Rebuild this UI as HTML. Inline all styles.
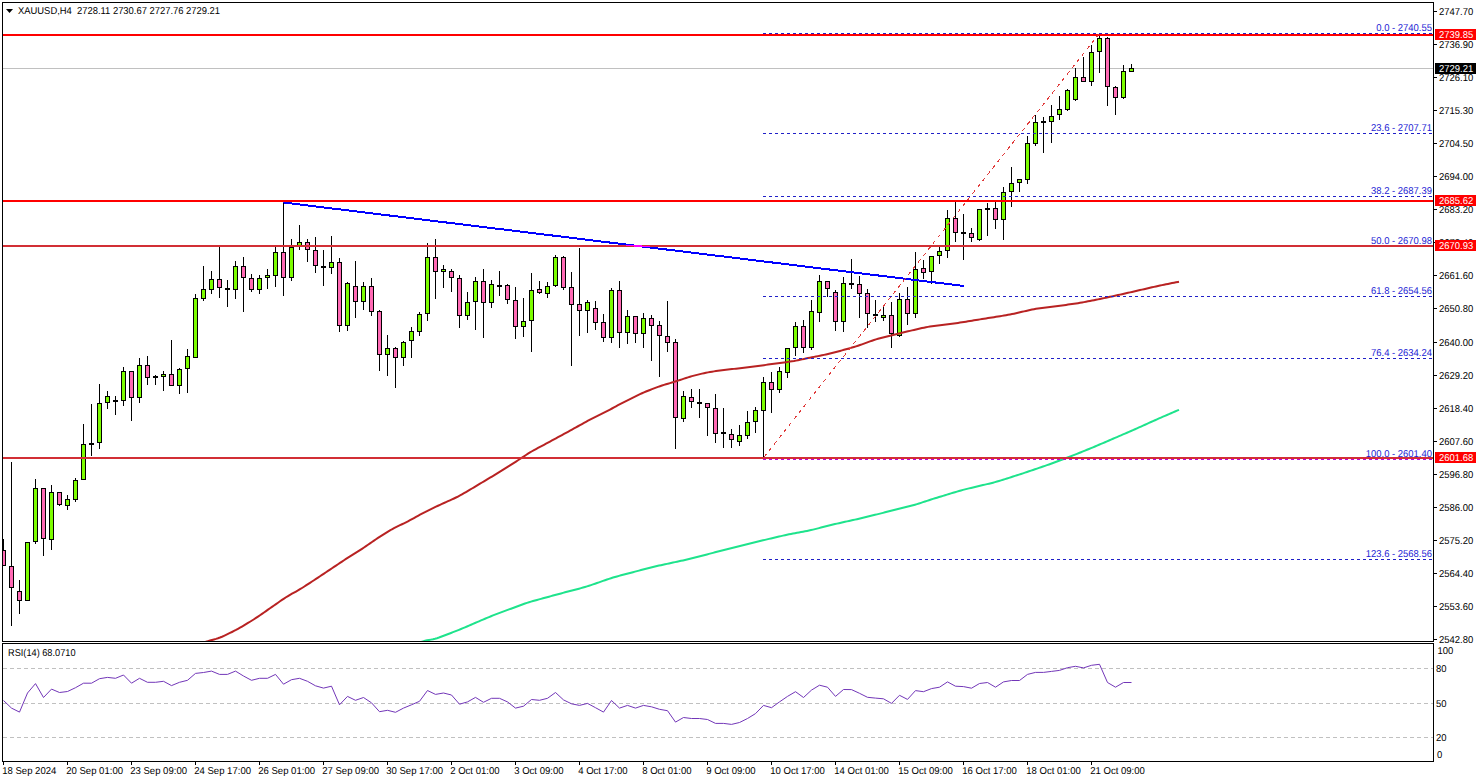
<!DOCTYPE html>
<html><head><meta charset="utf-8"><style>
html,body{margin:0;padding:0;background:#fff;width:1479px;height:782px;overflow:hidden;}
svg{display:block;}
text{font-family:"Liberation Sans",sans-serif;}
</style></head><body>
<svg width="1479" height="782" viewBox="0 0 1479 782" text-rendering="geometricPrecision">
<rect x="0" y="0" width="1479" height="782" fill="#fff"/>
<defs><clipPath id="mc"><rect x="3" y="3" width="1430" height="638"/></clipPath></defs>
<g shape-rendering="crispEdges" clip-path="url(#mc)">
<rect x="3" y="68" width="1430" height="1" fill="#c0c0c0"/>
<rect x="3" y="539" width="1" height="27" fill="#000"/>
<rect x="1" y="550" width="5" height="16" fill="#000"/>
<rect x="2" y="551" width="3" height="14" fill="#ff69b4"/>
<rect x="11" y="462" width="1" height="164" fill="#000"/>
<rect x="9" y="566" width="5" height="22" fill="#000"/>
<rect x="10" y="567" width="3" height="20" fill="#ff69b4"/>
<rect x="19" y="580" width="1" height="34" fill="#000"/>
<rect x="17" y="591" width="5" height="10" fill="#000"/>
<rect x="18" y="592" width="3" height="8" fill="#ff69b4"/>
<rect x="27" y="542" width="1" height="59" fill="#000"/>
<rect x="25" y="542" width="5" height="59" fill="#000"/>
<rect x="26" y="543" width="3" height="57" fill="#7cfc00"/>
<rect x="35" y="479" width="1" height="65" fill="#000"/>
<rect x="33" y="488" width="5" height="54" fill="#000"/>
<rect x="34" y="489" width="3" height="52" fill="#7cfc00"/>
<rect x="43" y="488" width="1" height="68" fill="#000"/>
<rect x="41" y="488" width="5" height="51" fill="#000"/>
<rect x="42" y="489" width="3" height="49" fill="#ff69b4"/>
<rect x="51" y="485" width="1" height="65" fill="#000"/>
<rect x="49" y="492" width="5" height="48" fill="#000"/>
<rect x="50" y="493" width="3" height="46" fill="#7cfc00"/>
<rect x="59" y="492" width="1" height="14" fill="#000"/>
<rect x="57" y="492" width="5" height="13" fill="#000"/>
<rect x="58" y="493" width="3" height="11" fill="#ff69b4"/>
<rect x="67" y="495" width="1" height="15" fill="#000"/>
<rect x="65" y="499" width="5" height="7" fill="#000"/>
<rect x="66" y="500" width="3" height="5" fill="#7cfc00"/>
<rect x="75" y="478" width="1" height="24" fill="#000"/>
<rect x="73" y="480" width="5" height="20" fill="#000"/>
<rect x="74" y="481" width="3" height="18" fill="#7cfc00"/>
<rect x="83" y="424" width="1" height="56" fill="#000"/>
<rect x="81" y="444" width="5" height="36" fill="#000"/>
<rect x="82" y="445" width="3" height="34" fill="#7cfc00"/>
<rect x="91" y="404" width="1" height="52" fill="#000"/>
<rect x="89" y="443" width="5" height="2" fill="#000"/>
<rect x="99" y="384" width="1" height="65" fill="#000"/>
<rect x="97" y="403" width="5" height="40" fill="#000"/>
<rect x="98" y="404" width="3" height="38" fill="#7cfc00"/>
<rect x="107" y="391" width="1" height="18" fill="#000"/>
<rect x="105" y="396" width="5" height="7" fill="#000"/>
<rect x="106" y="397" width="3" height="5" fill="#7cfc00"/>
<rect x="115" y="396" width="1" height="19" fill="#000"/>
<rect x="113" y="400" width="5" height="2" fill="#000"/>
<rect x="123" y="367" width="1" height="39" fill="#000"/>
<rect x="121" y="371" width="5" height="30" fill="#000"/>
<rect x="122" y="372" width="3" height="28" fill="#7cfc00"/>
<rect x="131" y="371" width="1" height="50" fill="#000"/>
<rect x="129" y="371" width="5" height="27" fill="#000"/>
<rect x="130" y="372" width="3" height="25" fill="#ff69b4"/>
<rect x="139" y="358" width="1" height="45" fill="#000"/>
<rect x="137" y="365" width="5" height="33" fill="#000"/>
<rect x="138" y="366" width="3" height="31" fill="#7cfc00"/>
<rect x="147" y="356" width="1" height="29" fill="#000"/>
<rect x="145" y="365" width="5" height="13" fill="#000"/>
<rect x="146" y="366" width="3" height="11" fill="#ff69b4"/>
<rect x="155" y="375" width="1" height="10" fill="#000"/>
<rect x="153" y="376" width="5" height="2" fill="#000"/>
<rect x="163" y="371" width="1" height="20" fill="#000"/>
<rect x="161" y="374" width="5" height="3" fill="#000"/>
<rect x="162" y="375" width="3" height="1" fill="#7cfc00"/>
<rect x="171" y="340" width="1" height="46" fill="#000"/>
<rect x="169" y="374" width="5" height="12" fill="#000"/>
<rect x="170" y="375" width="3" height="10" fill="#ff69b4"/>
<rect x="179" y="368" width="1" height="26" fill="#000"/>
<rect x="177" y="369" width="5" height="17" fill="#000"/>
<rect x="178" y="370" width="3" height="15" fill="#7cfc00"/>
<rect x="187" y="349" width="1" height="44" fill="#000"/>
<rect x="185" y="356" width="5" height="13" fill="#000"/>
<rect x="186" y="357" width="3" height="11" fill="#7cfc00"/>
<rect x="195" y="294" width="1" height="64" fill="#000"/>
<rect x="193" y="298" width="5" height="60" fill="#000"/>
<rect x="194" y="299" width="3" height="58" fill="#7cfc00"/>
<rect x="203" y="266" width="1" height="35" fill="#000"/>
<rect x="201" y="289" width="5" height="10" fill="#000"/>
<rect x="202" y="290" width="3" height="8" fill="#7cfc00"/>
<rect x="211" y="271" width="1" height="23" fill="#000"/>
<rect x="209" y="279" width="5" height="11" fill="#000"/>
<rect x="210" y="280" width="3" height="9" fill="#7cfc00"/>
<rect x="219" y="247" width="1" height="51" fill="#000"/>
<rect x="217" y="279" width="5" height="9" fill="#000"/>
<rect x="218" y="280" width="3" height="7" fill="#ff69b4"/>
<rect x="227" y="280" width="1" height="27" fill="#000"/>
<rect x="225" y="288" width="5" height="2" fill="#000"/>
<rect x="235" y="261" width="1" height="38" fill="#000"/>
<rect x="233" y="266" width="5" height="24" fill="#000"/>
<rect x="234" y="267" width="3" height="22" fill="#7cfc00"/>
<rect x="243" y="257" width="1" height="55" fill="#000"/>
<rect x="241" y="266" width="5" height="12" fill="#000"/>
<rect x="242" y="267" width="3" height="10" fill="#ff69b4"/>
<rect x="251" y="274" width="1" height="18" fill="#000"/>
<rect x="249" y="278" width="5" height="12" fill="#000"/>
<rect x="250" y="279" width="3" height="10" fill="#ff69b4"/>
<rect x="259" y="275" width="1" height="19" fill="#000"/>
<rect x="257" y="278" width="5" height="12" fill="#000"/>
<rect x="258" y="279" width="3" height="10" fill="#7cfc00"/>
<rect x="267" y="269" width="1" height="20" fill="#000"/>
<rect x="265" y="275" width="5" height="3" fill="#000"/>
<rect x="266" y="276" width="3" height="1" fill="#7cfc00"/>
<rect x="275" y="247" width="1" height="40" fill="#000"/>
<rect x="273" y="252" width="5" height="24" fill="#000"/>
<rect x="274" y="253" width="3" height="22" fill="#7cfc00"/>
<rect x="283" y="202" width="1" height="94" fill="#000"/>
<rect x="281" y="252" width="5" height="26" fill="#000"/>
<rect x="282" y="253" width="3" height="24" fill="#ff69b4"/>
<rect x="291" y="239" width="1" height="42" fill="#000"/>
<rect x="289" y="247" width="5" height="31" fill="#000"/>
<rect x="290" y="248" width="3" height="29" fill="#7cfc00"/>
<rect x="299" y="225" width="1" height="25" fill="#000"/>
<rect x="297" y="242" width="5" height="4" fill="#000"/>
<rect x="298" y="243" width="3" height="2" fill="#7cfc00"/>
<rect x="307" y="239" width="1" height="23" fill="#000"/>
<rect x="305" y="242" width="5" height="8" fill="#000"/>
<rect x="306" y="243" width="3" height="6" fill="#ff69b4"/>
<rect x="315" y="237" width="1" height="36" fill="#000"/>
<rect x="313" y="250" width="5" height="16" fill="#000"/>
<rect x="314" y="251" width="3" height="14" fill="#ff69b4"/>
<rect x="323" y="250" width="1" height="36" fill="#000"/>
<rect x="321" y="266" width="5" height="2" fill="#000"/>
<rect x="331" y="236" width="1" height="38" fill="#000"/>
<rect x="329" y="262" width="5" height="6" fill="#000"/>
<rect x="330" y="263" width="3" height="4" fill="#7cfc00"/>
<rect x="339" y="258" width="1" height="74" fill="#000"/>
<rect x="337" y="262" width="5" height="64" fill="#000"/>
<rect x="338" y="263" width="3" height="62" fill="#ff69b4"/>
<rect x="347" y="282" width="1" height="49" fill="#000"/>
<rect x="345" y="283" width="5" height="43" fill="#000"/>
<rect x="346" y="284" width="3" height="41" fill="#7cfc00"/>
<rect x="355" y="261" width="1" height="57" fill="#000"/>
<rect x="353" y="286" width="5" height="16" fill="#000"/>
<rect x="354" y="287" width="3" height="14" fill="#ff69b4"/>
<rect x="363" y="282" width="1" height="28" fill="#000"/>
<rect x="361" y="286" width="5" height="16" fill="#000"/>
<rect x="362" y="287" width="3" height="14" fill="#7cfc00"/>
<rect x="371" y="278" width="1" height="38" fill="#000"/>
<rect x="369" y="286" width="5" height="26" fill="#000"/>
<rect x="370" y="287" width="3" height="24" fill="#ff69b4"/>
<rect x="379" y="310" width="1" height="61" fill="#000"/>
<rect x="377" y="311" width="5" height="44" fill="#000"/>
<rect x="378" y="312" width="3" height="42" fill="#ff69b4"/>
<rect x="387" y="335" width="1" height="41" fill="#000"/>
<rect x="385" y="348" width="5" height="7" fill="#000"/>
<rect x="386" y="349" width="3" height="5" fill="#7cfc00"/>
<rect x="395" y="347" width="1" height="41" fill="#000"/>
<rect x="393" y="348" width="5" height="10" fill="#000"/>
<rect x="394" y="349" width="3" height="8" fill="#ff69b4"/>
<rect x="403" y="341" width="1" height="25" fill="#000"/>
<rect x="401" y="342" width="5" height="16" fill="#000"/>
<rect x="402" y="343" width="3" height="14" fill="#7cfc00"/>
<rect x="411" y="327" width="1" height="31" fill="#000"/>
<rect x="409" y="331" width="5" height="10" fill="#000"/>
<rect x="410" y="332" width="3" height="8" fill="#7cfc00"/>
<rect x="419" y="312" width="1" height="24" fill="#000"/>
<rect x="417" y="314" width="5" height="18" fill="#000"/>
<rect x="418" y="315" width="3" height="16" fill="#7cfc00"/>
<rect x="427" y="243" width="1" height="78" fill="#000"/>
<rect x="425" y="257" width="5" height="57" fill="#000"/>
<rect x="426" y="258" width="3" height="55" fill="#7cfc00"/>
<rect x="435" y="239" width="1" height="60" fill="#000"/>
<rect x="433" y="257" width="5" height="15" fill="#000"/>
<rect x="434" y="258" width="3" height="13" fill="#ff69b4"/>
<rect x="443" y="265" width="1" height="23" fill="#000"/>
<rect x="441" y="269" width="5" height="3" fill="#000"/>
<rect x="442" y="270" width="3" height="1" fill="#7cfc00"/>
<rect x="451" y="269" width="1" height="23" fill="#000"/>
<rect x="449" y="271" width="5" height="7" fill="#000"/>
<rect x="450" y="272" width="3" height="5" fill="#ff69b4"/>
<rect x="459" y="275" width="1" height="53" fill="#000"/>
<rect x="457" y="278" width="5" height="38" fill="#000"/>
<rect x="458" y="279" width="3" height="36" fill="#ff69b4"/>
<rect x="467" y="292" width="1" height="28" fill="#000"/>
<rect x="465" y="302" width="5" height="14" fill="#000"/>
<rect x="466" y="303" width="3" height="12" fill="#7cfc00"/>
<rect x="475" y="277" width="1" height="53" fill="#000"/>
<rect x="473" y="281" width="5" height="21" fill="#000"/>
<rect x="474" y="282" width="3" height="19" fill="#7cfc00"/>
<rect x="483" y="269" width="1" height="69" fill="#000"/>
<rect x="481" y="281" width="5" height="22" fill="#000"/>
<rect x="482" y="282" width="3" height="20" fill="#ff69b4"/>
<rect x="491" y="280" width="1" height="28" fill="#000"/>
<rect x="489" y="284" width="5" height="19" fill="#000"/>
<rect x="490" y="285" width="3" height="17" fill="#7cfc00"/>
<rect x="499" y="271" width="1" height="25" fill="#000"/>
<rect x="497" y="285" width="5" height="2" fill="#000"/>
<rect x="507" y="284" width="1" height="20" fill="#000"/>
<rect x="505" y="285" width="5" height="15" fill="#000"/>
<rect x="506" y="286" width="3" height="13" fill="#ff69b4"/>
<rect x="515" y="287" width="1" height="52" fill="#000"/>
<rect x="513" y="300" width="5" height="27" fill="#000"/>
<rect x="514" y="301" width="3" height="25" fill="#ff69b4"/>
<rect x="523" y="298" width="1" height="39" fill="#000"/>
<rect x="521" y="321" width="5" height="6" fill="#000"/>
<rect x="522" y="322" width="3" height="4" fill="#7cfc00"/>
<rect x="531" y="273" width="1" height="79" fill="#000"/>
<rect x="529" y="290" width="5" height="31" fill="#000"/>
<rect x="530" y="291" width="3" height="29" fill="#7cfc00"/>
<rect x="539" y="281" width="1" height="13" fill="#000"/>
<rect x="537" y="289" width="5" height="4" fill="#000"/>
<rect x="538" y="290" width="3" height="2" fill="#ff69b4"/>
<rect x="547" y="282" width="1" height="16" fill="#000"/>
<rect x="545" y="286" width="5" height="8" fill="#000"/>
<rect x="546" y="287" width="3" height="6" fill="#7cfc00"/>
<rect x="555" y="255" width="1" height="32" fill="#000"/>
<rect x="553" y="257" width="5" height="29" fill="#000"/>
<rect x="554" y="258" width="3" height="27" fill="#7cfc00"/>
<rect x="563" y="256" width="1" height="34" fill="#000"/>
<rect x="561" y="257" width="5" height="31" fill="#000"/>
<rect x="562" y="258" width="3" height="29" fill="#ff69b4"/>
<rect x="571" y="272" width="1" height="94" fill="#000"/>
<rect x="569" y="287" width="5" height="18" fill="#000"/>
<rect x="570" y="288" width="3" height="16" fill="#ff69b4"/>
<rect x="579" y="248" width="1" height="88" fill="#000"/>
<rect x="577" y="304" width="5" height="7" fill="#000"/>
<rect x="578" y="305" width="3" height="5" fill="#ff69b4"/>
<rect x="587" y="300" width="1" height="33" fill="#000"/>
<rect x="585" y="302" width="5" height="9" fill="#000"/>
<rect x="586" y="303" width="3" height="7" fill="#7cfc00"/>
<rect x="595" y="301" width="1" height="29" fill="#000"/>
<rect x="593" y="308" width="5" height="15" fill="#000"/>
<rect x="594" y="309" width="3" height="13" fill="#ff69b4"/>
<rect x="603" y="314" width="1" height="28" fill="#000"/>
<rect x="601" y="322" width="5" height="16" fill="#000"/>
<rect x="602" y="323" width="3" height="14" fill="#ff69b4"/>
<rect x="611" y="288" width="1" height="55" fill="#000"/>
<rect x="609" y="290" width="5" height="48" fill="#000"/>
<rect x="610" y="291" width="3" height="46" fill="#7cfc00"/>
<rect x="619" y="281" width="1" height="67" fill="#000"/>
<rect x="617" y="290" width="5" height="43" fill="#000"/>
<rect x="618" y="291" width="3" height="41" fill="#ff69b4"/>
<rect x="627" y="310" width="1" height="34" fill="#000"/>
<rect x="625" y="316" width="5" height="17" fill="#000"/>
<rect x="626" y="317" width="3" height="15" fill="#7cfc00"/>
<rect x="635" y="316" width="1" height="27" fill="#000"/>
<rect x="633" y="316" width="5" height="18" fill="#000"/>
<rect x="634" y="317" width="3" height="16" fill="#ff69b4"/>
<rect x="643" y="313" width="1" height="35" fill="#000"/>
<rect x="641" y="318" width="5" height="16" fill="#000"/>
<rect x="642" y="319" width="3" height="14" fill="#7cfc00"/>
<rect x="651" y="315" width="1" height="46" fill="#000"/>
<rect x="649" y="318" width="5" height="8" fill="#000"/>
<rect x="650" y="319" width="3" height="6" fill="#ff69b4"/>
<rect x="659" y="321" width="1" height="56" fill="#000"/>
<rect x="657" y="325" width="5" height="11" fill="#000"/>
<rect x="658" y="326" width="3" height="9" fill="#ff69b4"/>
<rect x="667" y="301" width="1" height="51" fill="#000"/>
<rect x="665" y="336" width="5" height="7" fill="#000"/>
<rect x="666" y="337" width="3" height="5" fill="#ff69b4"/>
<rect x="675" y="339" width="1" height="110" fill="#000"/>
<rect x="673" y="342" width="5" height="76" fill="#000"/>
<rect x="674" y="343" width="3" height="74" fill="#ff69b4"/>
<rect x="683" y="391" width="1" height="31" fill="#000"/>
<rect x="681" y="396" width="5" height="23" fill="#000"/>
<rect x="682" y="397" width="3" height="21" fill="#7cfc00"/>
<rect x="691" y="389" width="1" height="19" fill="#000"/>
<rect x="689" y="397" width="5" height="5" fill="#000"/>
<rect x="690" y="398" width="3" height="3" fill="#ff69b4"/>
<rect x="699" y="389" width="1" height="29" fill="#000"/>
<rect x="697" y="402" width="5" height="2" fill="#000"/>
<rect x="707" y="403" width="1" height="33" fill="#000"/>
<rect x="705" y="403" width="5" height="5" fill="#000"/>
<rect x="706" y="404" width="3" height="3" fill="#ff69b4"/>
<rect x="715" y="394" width="1" height="49" fill="#000"/>
<rect x="713" y="408" width="5" height="26" fill="#000"/>
<rect x="714" y="409" width="3" height="24" fill="#ff69b4"/>
<rect x="723" y="408" width="1" height="40" fill="#000"/>
<rect x="721" y="432" width="5" height="2" fill="#000"/>
<rect x="731" y="429" width="1" height="19" fill="#000"/>
<rect x="729" y="434" width="5" height="6" fill="#000"/>
<rect x="730" y="435" width="3" height="4" fill="#ff69b4"/>
<rect x="739" y="425" width="1" height="21" fill="#000"/>
<rect x="737" y="435" width="5" height="7" fill="#000"/>
<rect x="738" y="436" width="3" height="5" fill="#7cfc00"/>
<rect x="747" y="411" width="1" height="28" fill="#000"/>
<rect x="745" y="422" width="5" height="14" fill="#000"/>
<rect x="746" y="423" width="3" height="12" fill="#7cfc00"/>
<rect x="755" y="407" width="1" height="26" fill="#000"/>
<rect x="753" y="410" width="5" height="12" fill="#000"/>
<rect x="754" y="411" width="3" height="10" fill="#7cfc00"/>
<rect x="763" y="377" width="1" height="81" fill="#000"/>
<rect x="761" y="382" width="5" height="29" fill="#000"/>
<rect x="762" y="383" width="3" height="27" fill="#7cfc00"/>
<rect x="771" y="372" width="1" height="41" fill="#000"/>
<rect x="769" y="382" width="5" height="8" fill="#000"/>
<rect x="770" y="383" width="3" height="6" fill="#ff69b4"/>
<rect x="779" y="367" width="1" height="26" fill="#000"/>
<rect x="777" y="371" width="5" height="19" fill="#000"/>
<rect x="778" y="372" width="3" height="17" fill="#7cfc00"/>
<rect x="787" y="348" width="1" height="30" fill="#000"/>
<rect x="785" y="348" width="5" height="25" fill="#000"/>
<rect x="786" y="349" width="3" height="23" fill="#7cfc00"/>
<rect x="795" y="322" width="1" height="34" fill="#000"/>
<rect x="793" y="326" width="5" height="22" fill="#000"/>
<rect x="794" y="327" width="3" height="20" fill="#7cfc00"/>
<rect x="803" y="320" width="1" height="33" fill="#000"/>
<rect x="801" y="326" width="5" height="22" fill="#000"/>
<rect x="802" y="327" width="3" height="20" fill="#ff69b4"/>
<rect x="811" y="300" width="1" height="50" fill="#000"/>
<rect x="809" y="311" width="5" height="37" fill="#000"/>
<rect x="810" y="312" width="3" height="35" fill="#7cfc00"/>
<rect x="819" y="275" width="1" height="47" fill="#000"/>
<rect x="817" y="281" width="5" height="32" fill="#000"/>
<rect x="818" y="282" width="3" height="30" fill="#7cfc00"/>
<rect x="827" y="281" width="1" height="16" fill="#000"/>
<rect x="825" y="281" width="5" height="8" fill="#000"/>
<rect x="826" y="282" width="3" height="6" fill="#ff69b4"/>
<rect x="835" y="290" width="1" height="41" fill="#000"/>
<rect x="833" y="292" width="5" height="30" fill="#000"/>
<rect x="834" y="293" width="3" height="28" fill="#ff69b4"/>
<rect x="843" y="277" width="1" height="55" fill="#000"/>
<rect x="841" y="283" width="5" height="39" fill="#000"/>
<rect x="842" y="284" width="3" height="37" fill="#7cfc00"/>
<rect x="851" y="259" width="1" height="30" fill="#000"/>
<rect x="849" y="283" width="5" height="2" fill="#000"/>
<rect x="859" y="276" width="1" height="42" fill="#000"/>
<rect x="857" y="284" width="5" height="10" fill="#000"/>
<rect x="858" y="285" width="3" height="8" fill="#ff69b4"/>
<rect x="867" y="289" width="1" height="39" fill="#000"/>
<rect x="865" y="293" width="5" height="21" fill="#000"/>
<rect x="866" y="294" width="3" height="19" fill="#ff69b4"/>
<rect x="875" y="300" width="1" height="22" fill="#000"/>
<rect x="873" y="314" width="5" height="2" fill="#000"/>
<rect x="883" y="306" width="1" height="15" fill="#000"/>
<rect x="881" y="315" width="5" height="3" fill="#000"/>
<rect x="882" y="316" width="3" height="1" fill="#7cfc00"/>
<rect x="891" y="302" width="1" height="46" fill="#000"/>
<rect x="889" y="315" width="5" height="19" fill="#000"/>
<rect x="890" y="316" width="3" height="17" fill="#ff69b4"/>
<rect x="899" y="293" width="1" height="44" fill="#000"/>
<rect x="897" y="299" width="5" height="37" fill="#000"/>
<rect x="898" y="300" width="3" height="35" fill="#7cfc00"/>
<rect x="907" y="287" width="1" height="38" fill="#000"/>
<rect x="905" y="299" width="5" height="15" fill="#000"/>
<rect x="906" y="300" width="3" height="13" fill="#ff69b4"/>
<rect x="915" y="252" width="1" height="66" fill="#000"/>
<rect x="913" y="269" width="5" height="45" fill="#000"/>
<rect x="914" y="270" width="3" height="43" fill="#7cfc00"/>
<rect x="923" y="260" width="1" height="19" fill="#000"/>
<rect x="921" y="268" width="5" height="5" fill="#000"/>
<rect x="922" y="269" width="3" height="3" fill="#ff69b4"/>
<rect x="931" y="256" width="1" height="28" fill="#000"/>
<rect x="929" y="256" width="5" height="16" fill="#000"/>
<rect x="930" y="257" width="3" height="14" fill="#7cfc00"/>
<rect x="939" y="247" width="1" height="17" fill="#000"/>
<rect x="937" y="251" width="5" height="5" fill="#000"/>
<rect x="938" y="252" width="3" height="3" fill="#7cfc00"/>
<rect x="947" y="210" width="1" height="48" fill="#000"/>
<rect x="945" y="218" width="5" height="33" fill="#000"/>
<rect x="946" y="219" width="3" height="31" fill="#7cfc00"/>
<rect x="955" y="202" width="1" height="40" fill="#000"/>
<rect x="953" y="218" width="5" height="15" fill="#000"/>
<rect x="954" y="219" width="3" height="13" fill="#ff69b4"/>
<rect x="963" y="214" width="1" height="46" fill="#000"/>
<rect x="961" y="232" width="5" height="2" fill="#000"/>
<rect x="971" y="228" width="1" height="14" fill="#000"/>
<rect x="969" y="233" width="5" height="5" fill="#000"/>
<rect x="970" y="234" width="3" height="3" fill="#ff69b4"/>
<rect x="979" y="209" width="1" height="32" fill="#000"/>
<rect x="977" y="209" width="5" height="31" fill="#000"/>
<rect x="978" y="210" width="3" height="29" fill="#7cfc00"/>
<rect x="987" y="203" width="1" height="33" fill="#000"/>
<rect x="985" y="208" width="5" height="2" fill="#000"/>
<rect x="995" y="202" width="1" height="27" fill="#000"/>
<rect x="993" y="208" width="5" height="12" fill="#000"/>
<rect x="994" y="209" width="3" height="10" fill="#ff69b4"/>
<rect x="1003" y="187" width="1" height="53" fill="#000"/>
<rect x="1001" y="192" width="5" height="28" fill="#000"/>
<rect x="1002" y="193" width="3" height="26" fill="#7cfc00"/>
<rect x="1011" y="167" width="1" height="40" fill="#000"/>
<rect x="1009" y="183" width="5" height="9" fill="#000"/>
<rect x="1010" y="184" width="3" height="7" fill="#7cfc00"/>
<rect x="1019" y="179" width="1" height="13" fill="#000"/>
<rect x="1017" y="179" width="5" height="4" fill="#000"/>
<rect x="1018" y="180" width="3" height="2" fill="#7cfc00"/>
<rect x="1027" y="136" width="1" height="48" fill="#000"/>
<rect x="1025" y="143" width="5" height="37" fill="#000"/>
<rect x="1026" y="144" width="3" height="35" fill="#7cfc00"/>
<rect x="1035" y="115" width="1" height="31" fill="#000"/>
<rect x="1033" y="122" width="5" height="22" fill="#000"/>
<rect x="1034" y="123" width="3" height="20" fill="#7cfc00"/>
<rect x="1043" y="117" width="1" height="36" fill="#000"/>
<rect x="1041" y="121" width="5" height="2" fill="#000"/>
<rect x="1051" y="105" width="1" height="38" fill="#000"/>
<rect x="1049" y="116" width="5" height="6" fill="#000"/>
<rect x="1050" y="117" width="3" height="4" fill="#7cfc00"/>
<rect x="1059" y="96" width="1" height="24" fill="#000"/>
<rect x="1057" y="109" width="5" height="6" fill="#000"/>
<rect x="1058" y="110" width="3" height="4" fill="#7cfc00"/>
<rect x="1067" y="89" width="1" height="22" fill="#000"/>
<rect x="1065" y="90" width="5" height="20" fill="#000"/>
<rect x="1066" y="91" width="3" height="18" fill="#7cfc00"/>
<rect x="1075" y="68" width="1" height="33" fill="#000"/>
<rect x="1073" y="77" width="5" height="23" fill="#000"/>
<rect x="1074" y="78" width="3" height="21" fill="#7cfc00"/>
<rect x="1083" y="57" width="1" height="25" fill="#000"/>
<rect x="1081" y="77" width="5" height="5" fill="#000"/>
<rect x="1082" y="78" width="3" height="3" fill="#ff69b4"/>
<rect x="1091" y="45" width="1" height="41" fill="#000"/>
<rect x="1089" y="52" width="5" height="30" fill="#000"/>
<rect x="1090" y="53" width="3" height="28" fill="#7cfc00"/>
<rect x="1099" y="33" width="1" height="40" fill="#000"/>
<rect x="1097" y="38" width="5" height="14" fill="#000"/>
<rect x="1098" y="39" width="3" height="12" fill="#7cfc00"/>
<rect x="1107" y="37" width="1" height="69" fill="#000"/>
<rect x="1105" y="38" width="5" height="49" fill="#000"/>
<rect x="1106" y="39" width="3" height="47" fill="#ff69b4"/>
<rect x="1115" y="86" width="1" height="29" fill="#000"/>
<rect x="1113" y="87" width="5" height="11" fill="#000"/>
<rect x="1114" y="88" width="3" height="9" fill="#ff69b4"/>
<rect x="1123" y="65" width="1" height="34" fill="#000"/>
<rect x="1121" y="71" width="5" height="27" fill="#000"/>
<rect x="1122" y="72" width="3" height="25" fill="#7cfc00"/>
<rect x="1131" y="64" width="1" height="8" fill="#000"/>
<rect x="1129" y="68" width="5" height="4" fill="#000"/>
<rect x="1130" y="69" width="3" height="2" fill="#7cfc00"/>
</g>
<g clip-path="url(#mc)">
<path d="M204.0,642.50 L206.0,641.78 L208.0,641.10 L210.0,640.49 L212.0,639.94 L214.0,639.42 L216.0,638.87 L218.0,638.25 L220.0,637.52 L222.0,636.71 L224.0,635.81 L226.0,634.88 L228.0,633.93 L230.0,632.96 L232.0,631.98 L234.0,630.98 L236.0,629.95 L238.0,628.86 L240.0,627.74 L242.0,626.57 L244.0,625.38 L246.0,624.19 L248.0,622.98 L250.0,621.76 L252.0,620.52 L254.0,619.24 L256.0,617.94 L258.0,616.59 L260.0,615.23 L262.0,613.84 L264.0,612.46 L266.0,611.07 L268.0,609.67 L270.0,608.28 L272.0,606.89 L274.0,605.49 L276.0,604.09 L278.0,602.70 L280.0,601.30 L282.0,599.93 L284.0,598.58 L286.0,597.28 L288.0,596.04 L290.0,594.87 L292.0,593.74 L294.0,592.63 L296.0,591.52 L298.0,590.39 L300.0,589.21 L302.0,588.00 L304.0,586.74 L306.0,585.45 L308.0,584.15 L310.0,582.84 L312.0,581.53 L314.0,580.21 L316.0,578.90 L318.0,577.58 L320.0,576.27 L322.0,574.94 L324.0,573.61 L326.0,572.27 L328.0,570.93 L330.0,569.58 L332.0,568.24 L334.0,566.89 L336.0,565.55 L338.0,564.21 L340.0,562.87 L342.0,561.55 L344.0,560.25 L346.0,558.96 L348.0,557.69 L350.0,556.44 L352.0,555.19 L354.0,553.95 L356.0,552.69 L358.0,551.43 L360.0,550.15 L362.0,548.84 L364.0,547.50 L366.0,546.13 L368.0,544.75 L370.0,543.36 L372.0,541.97 L374.0,540.60 L376.0,539.25 L378.0,537.93 L380.0,536.64 L382.0,535.37 L384.0,534.12 L386.0,532.87 L388.0,531.63 L390.0,530.42 L392.0,529.25 L394.0,528.15 L396.0,527.11 L398.0,526.14 L400.0,525.21 L402.0,524.28 L404.0,523.34 L406.0,522.35 L408.0,521.31 L410.0,520.24 L412.0,519.13 L414.0,518.01 L416.0,516.89 L418.0,515.79 L420.0,514.71 L422.0,513.66 L424.0,512.63 L426.0,511.62 L428.0,510.63 L430.0,509.63 L432.0,508.64 L434.0,507.66 L436.0,506.69 L438.0,505.75 L440.0,504.81 L442.0,503.90 L444.0,502.99 L446.0,502.09 L448.0,501.19 L450.0,500.29 L452.0,499.38 L454.0,498.47 L456.0,497.52 L458.0,496.53 L460.0,495.49 L462.0,494.39 L464.0,493.24 L466.0,492.07 L468.0,490.88 L470.0,489.68 L472.0,488.49 L474.0,487.29 L476.0,486.10 L478.0,484.90 L480.0,483.71 L482.0,482.51 L484.0,481.32 L486.0,480.12 L488.0,478.93 L490.0,477.73 L492.0,476.54 L494.0,475.34 L496.0,474.14 L498.0,472.93 L500.0,471.71 L502.0,470.47 L504.0,469.21 L506.0,467.95 L508.0,466.68 L510.0,465.41 L512.0,464.13 L514.0,462.85 L516.0,461.57 L518.0,460.28 L520.0,458.98 L522.0,457.66 L524.0,456.34 L526.0,455.01 L528.0,453.71 L530.0,452.45 L532.0,451.26 L534.0,450.12 L536.0,449.02 L538.0,447.95 L540.0,446.88 L542.0,445.83 L544.0,444.77 L546.0,443.71 L548.0,442.64 L550.0,441.57 L552.0,440.49 L554.0,439.41 L556.0,438.32 L558.0,437.23 L560.0,436.14 L562.0,435.04 L564.0,433.95 L566.0,432.86 L568.0,431.76 L570.0,430.66 L572.0,429.56 L574.0,428.46 L576.0,427.35 L578.0,426.25 L580.0,425.14 L582.0,424.03 L584.0,422.93 L586.0,421.83 L588.0,420.74 L590.0,419.66 L592.0,418.61 L594.0,417.59 L596.0,416.57 L598.0,415.57 L600.0,414.57 L602.0,413.58 L604.0,412.58 L606.0,411.58 L608.0,410.57 L610.0,409.54 L612.0,408.49 L614.0,407.41 L616.0,406.32 L618.0,405.23 L620.0,404.15 L622.0,403.09 L624.0,402.05 L626.0,401.03 L628.0,400.02 L630.0,399.02 L632.0,398.03 L634.0,397.03 L636.0,396.05 L638.0,395.07 L640.0,394.13 L642.0,393.22 L644.0,392.36 L646.0,391.53 L648.0,390.74 L650.0,389.96 L652.0,389.18 L654.0,388.42 L656.0,387.66 L658.0,386.92 L660.0,386.22 L662.0,385.55 L664.0,384.91 L666.0,384.30 L668.0,383.71 L670.0,383.11 L672.0,382.52 L674.0,381.91 L676.0,381.30 L678.0,380.66 L680.0,380.01 L682.0,379.34 L684.0,378.65 L686.0,377.98 L688.0,377.33 L690.0,376.72 L692.0,376.15 L694.0,375.62 L696.0,375.11 L698.0,374.60 L700.0,374.11 L702.0,373.63 L704.0,373.17 L706.0,372.74 L708.0,372.36 L710.0,372.01 L712.0,371.69 L714.0,371.38 L716.0,371.08 L718.0,370.79 L720.0,370.51 L722.0,370.23 L724.0,369.97 L726.0,369.73 L728.0,369.50 L730.0,369.29 L732.0,369.08 L734.0,368.87 L736.0,368.66 L738.0,368.45 L740.0,368.23 L742.0,368.01 L744.0,367.77 L746.0,367.53 L748.0,367.29 L750.0,367.04 L752.0,366.79 L754.0,366.53 L756.0,366.28 L758.0,366.01 L760.0,365.74 L762.0,365.46 L764.0,365.17 L766.0,364.88 L768.0,364.59 L770.0,364.29 L772.0,364.00 L774.0,363.71 L776.0,363.43 L778.0,363.16 L780.0,362.90 L782.0,362.64 L784.0,362.39 L786.0,362.14 L788.0,361.88 L790.0,361.61 L792.0,361.32 L794.0,361.00 L796.0,360.63 L798.0,360.24 L800.0,359.82 L802.0,359.38 L804.0,358.94 L806.0,358.50 L808.0,358.08 L810.0,357.66 L812.0,357.27 L814.0,356.88 L816.0,356.50 L818.0,356.12 L820.0,355.73 L822.0,355.32 L824.0,354.88 L826.0,354.42 L828.0,353.94 L830.0,353.45 L832.0,352.95 L834.0,352.45 L836.0,351.94 L838.0,351.43 L840.0,350.91 L842.0,350.37 L844.0,349.83 L846.0,349.27 L848.0,348.71 L850.0,348.15 L852.0,347.58 L854.0,347.00 L856.0,346.39 L858.0,345.75 L860.0,345.07 L862.0,344.36 L864.0,343.63 L866.0,342.89 L868.0,342.14 L870.0,341.41 L872.0,340.70 L874.0,340.02 L876.0,339.39 L878.0,338.82 L880.0,338.28 L882.0,337.77 L884.0,337.28 L886.0,336.79 L888.0,336.30 L890.0,335.81 L892.0,335.31 L894.0,334.82 L896.0,334.32 L898.0,333.82 L900.0,333.32 L902.0,332.83 L904.0,332.33 L906.0,331.83 L908.0,331.34 L910.0,330.85 L912.0,330.38 L914.0,329.91 L916.0,329.45 L918.0,328.99 L920.0,328.53 L922.0,328.08 L924.0,327.65 L926.0,327.24 L928.0,326.88 L930.0,326.55 L932.0,326.27 L934.0,326.02 L936.0,325.77 L938.0,325.54 L940.0,325.30 L942.0,325.06 L944.0,324.81 L946.0,324.55 L948.0,324.28 L950.0,324.02 L952.0,323.74 L954.0,323.47 L956.0,323.19 L958.0,322.90 L960.0,322.61 L962.0,322.30 L964.0,321.98 L966.0,321.65 L968.0,321.32 L970.0,320.99 L972.0,320.66 L974.0,320.34 L976.0,320.01 L978.0,319.69 L980.0,319.37 L982.0,319.05 L984.0,318.73 L986.0,318.41 L988.0,318.09 L990.0,317.78 L992.0,317.46 L994.0,317.14 L996.0,316.82 L998.0,316.50 L1000.0,316.19 L1002.0,315.87 L1004.0,315.54 L1006.0,315.21 L1008.0,314.86 L1010.0,314.49 L1012.0,314.08 L1014.0,313.66 L1016.0,313.21 L1018.0,312.76 L1020.0,312.30 L1022.0,311.84 L1024.0,311.38 L1026.0,310.92 L1028.0,310.46 L1030.0,310.02 L1032.0,309.59 L1034.0,309.19 L1036.0,308.83 L1038.0,308.51 L1040.0,308.23 L1042.0,307.97 L1044.0,307.71 L1046.0,307.47 L1048.0,307.22 L1050.0,306.97 L1052.0,306.71 L1054.0,306.46 L1056.0,306.20 L1058.0,305.94 L1060.0,305.68 L1062.0,305.42 L1064.0,305.16 L1066.0,304.89 L1068.0,304.61 L1070.0,304.33 L1072.0,304.04 L1074.0,303.75 L1076.0,303.45 L1078.0,303.14 L1080.0,302.81 L1082.0,302.47 L1084.0,302.11 L1086.0,301.73 L1088.0,301.35 L1090.0,300.96 L1092.0,300.57 L1094.0,300.17 L1096.0,299.78 L1098.0,299.38 L1100.0,298.97 L1102.0,298.56 L1104.0,298.14 L1106.0,297.71 L1108.0,297.29 L1110.0,296.85 L1112.0,296.41 L1114.0,295.97 L1116.0,295.53 L1118.0,295.08 L1120.0,294.62 L1122.0,294.17 L1124.0,293.72 L1126.0,293.27 L1128.0,292.82 L1130.0,292.37 L1132.0,291.91 L1134.0,291.46 L1136.0,291.01 L1138.0,290.55 L1140.0,290.09 L1142.0,289.63 L1144.0,289.17 L1146.0,288.71 L1148.0,288.25 L1150.0,287.78 L1152.0,287.32 L1154.0,286.86 L1156.0,286.41 L1158.0,285.97 L1160.0,285.54 L1162.0,285.12 L1164.0,284.71 L1166.0,284.30 L1168.0,283.90 L1170.0,283.50 L1172.0,283.10 L1174.0,282.70 L1176.0,282.30 L1178.0,281.90 L1179.0,281.70" fill="none" stroke="#b82222" stroke-width="2"/>
<path d="M421.0,642.00 L423.0,641.35 L425.0,640.79 L427.0,640.33 L429.0,639.96 L431.0,639.62 L433.0,639.24 L435.0,638.77 L437.0,638.19 L439.0,637.52 L441.0,636.79 L443.0,636.03 L445.0,635.27 L447.0,634.49 L449.0,633.72 L451.0,632.95 L453.0,632.17 L455.0,631.40 L457.0,630.61 L459.0,629.82 L461.0,629.01 L463.0,628.18 L465.0,627.33 L467.0,626.48 L469.0,625.62 L471.0,624.76 L473.0,623.90 L475.0,623.04 L477.0,622.18 L479.0,621.31 L481.0,620.45 L483.0,619.59 L485.0,618.73 L487.0,617.88 L489.0,617.05 L491.0,616.23 L493.0,615.44 L495.0,614.67 L497.0,613.91 L499.0,613.16 L501.0,612.41 L503.0,611.67 L505.0,610.92 L507.0,610.18 L509.0,609.43 L511.0,608.69 L513.0,607.94 L515.0,607.19 L517.0,606.45 L519.0,605.71 L521.0,604.97 L523.0,604.24 L525.0,603.53 L527.0,602.85 L529.0,602.22 L531.0,601.62 L533.0,601.04 L535.0,600.49 L537.0,599.94 L539.0,599.39 L541.0,598.85 L543.0,598.30 L545.0,597.76 L547.0,597.21 L549.0,596.67 L551.0,596.12 L553.0,595.58 L555.0,595.04 L557.0,594.49 L559.0,593.95 L561.0,593.41 L563.0,592.88 L565.0,592.34 L567.0,591.82 L569.0,591.29 L571.0,590.77 L573.0,590.24 L575.0,589.72 L577.0,589.19 L579.0,588.66 L581.0,588.13 L583.0,587.58 L585.0,587.01 L587.0,586.41 L589.0,585.77 L591.0,585.10 L593.0,584.42 L595.0,583.72 L597.0,583.03 L599.0,582.33 L601.0,581.63 L603.0,580.93 L605.0,580.23 L607.0,579.54 L609.0,578.86 L611.0,578.20 L613.0,577.58 L615.0,576.98 L617.0,576.42 L619.0,575.87 L621.0,575.34 L623.0,574.81 L625.0,574.28 L627.0,573.76 L629.0,573.23 L631.0,572.70 L633.0,572.18 L635.0,571.65 L637.0,571.12 L639.0,570.60 L641.0,570.07 L643.0,569.54 L645.0,569.01 L647.0,568.49 L649.0,567.97 L651.0,567.46 L653.0,566.97 L655.0,566.50 L657.0,566.04 L659.0,565.60 L661.0,565.16 L663.0,564.73 L665.0,564.30 L667.0,563.86 L669.0,563.43 L671.0,563.00 L673.0,562.57 L675.0,562.14 L677.0,561.71 L679.0,561.27 L681.0,560.84 L683.0,560.41 L685.0,559.97 L687.0,559.52 L689.0,559.06 L691.0,558.58 L693.0,558.09 L695.0,557.57 L697.0,557.05 L699.0,556.53 L701.0,556.00 L703.0,555.48 L705.0,554.95 L707.0,554.42 L709.0,553.90 L711.0,553.38 L713.0,552.86 L715.0,552.34 L717.0,551.83 L719.0,551.33 L721.0,550.83 L723.0,550.33 L725.0,549.83 L727.0,549.32 L729.0,548.82 L731.0,548.32 L733.0,547.82 L735.0,547.32 L737.0,546.82 L739.0,546.32 L741.0,545.82 L743.0,545.32 L745.0,544.82 L747.0,544.32 L749.0,543.81 L751.0,543.31 L753.0,542.81 L755.0,542.31 L757.0,541.81 L759.0,541.31 L761.0,540.82 L763.0,540.33 L765.0,539.85 L767.0,539.37 L769.0,538.90 L771.0,538.43 L773.0,537.96 L775.0,537.50 L777.0,537.03 L779.0,536.56 L781.0,536.10 L783.0,535.64 L785.0,535.19 L787.0,534.76 L789.0,534.35 L791.0,533.95 L793.0,533.57 L795.0,533.19 L797.0,532.82 L799.0,532.44 L801.0,532.07 L803.0,531.70 L805.0,531.32 L807.0,530.92 L809.0,530.51 L811.0,530.07 L813.0,529.60 L815.0,529.11 L817.0,528.61 L819.0,528.10 L821.0,527.59 L823.0,527.08 L825.0,526.57 L827.0,526.06 L829.0,525.56 L831.0,525.06 L833.0,524.57 L835.0,524.09 L837.0,523.62 L839.0,523.17 L841.0,522.72 L843.0,522.28 L845.0,521.83 L847.0,521.39 L849.0,520.95 L851.0,520.50 L853.0,520.06 L855.0,519.61 L857.0,519.16 L859.0,518.70 L861.0,518.23 L863.0,517.75 L865.0,517.27 L867.0,516.78 L869.0,516.30 L871.0,515.81 L873.0,515.33 L875.0,514.84 L877.0,514.35 L879.0,513.86 L881.0,513.36 L883.0,512.86 L885.0,512.34 L887.0,511.81 L889.0,511.28 L891.0,510.74 L893.0,510.22 L895.0,509.70 L897.0,509.19 L899.0,508.69 L901.0,508.20 L903.0,507.72 L905.0,507.23 L907.0,506.75 L909.0,506.26 L911.0,505.76 L913.0,505.24 L915.0,504.69 L917.0,504.10 L919.0,503.48 L921.0,502.83 L923.0,502.16 L925.0,501.50 L927.0,500.83 L929.0,500.18 L931.0,499.53 L933.0,498.90 L935.0,498.28 L937.0,497.67 L939.0,497.06 L941.0,496.45 L943.0,495.84 L945.0,495.23 L947.0,494.62 L949.0,494.01 L951.0,493.40 L953.0,492.79 L955.0,492.19 L957.0,491.59 L959.0,491.00 L961.0,490.42 L963.0,489.88 L965.0,489.36 L967.0,488.86 L969.0,488.38 L971.0,487.91 L973.0,487.44 L975.0,486.97 L977.0,486.50 L979.0,486.03 L981.0,485.56 L983.0,485.09 L985.0,484.62 L987.0,484.15 L989.0,483.67 L991.0,483.19 L993.0,482.68 L995.0,482.14 L997.0,481.57 L999.0,480.97 L1001.0,480.36 L1003.0,479.73 L1005.0,479.09 L1007.0,478.46 L1009.0,477.83 L1011.0,477.19 L1013.0,476.56 L1015.0,475.92 L1017.0,475.28 L1019.0,474.64 L1021.0,473.99 L1023.0,473.33 L1025.0,472.67 L1027.0,471.99 L1029.0,471.31 L1031.0,470.63 L1033.0,469.95 L1035.0,469.27 L1037.0,468.59 L1039.0,467.91 L1041.0,467.22 L1043.0,466.54 L1045.0,465.85 L1047.0,465.15 L1049.0,464.45 L1051.0,463.72 L1053.0,462.99 L1055.0,462.25 L1057.0,461.50 L1059.0,460.75 L1061.0,460.00 L1063.0,459.25 L1065.0,458.50 L1067.0,457.74 L1069.0,456.98 L1071.0,456.20 L1073.0,455.42 L1075.0,454.62 L1077.0,453.82 L1079.0,453.02 L1081.0,452.22 L1083.0,451.41 L1085.0,450.61 L1087.0,449.79 L1089.0,448.97 L1091.0,448.15 L1093.0,447.31 L1095.0,446.46 L1097.0,445.62 L1099.0,444.76 L1101.0,443.91 L1103.0,443.06 L1105.0,442.21 L1107.0,441.36 L1109.0,440.50 L1111.0,439.65 L1113.0,438.79 L1115.0,437.92 L1117.0,437.06 L1119.0,436.19 L1121.0,435.32 L1123.0,434.45 L1125.0,433.58 L1127.0,432.71 L1129.0,431.84 L1131.0,430.97 L1133.0,430.10 L1135.0,429.22 L1137.0,428.33 L1139.0,427.43 L1141.0,426.54 L1143.0,425.63 L1145.0,424.73 L1147.0,423.83 L1149.0,422.92 L1151.0,422.02 L1153.0,421.12 L1155.0,420.22 L1157.0,419.32 L1159.0,418.44 L1161.0,417.56 L1163.0,416.69 L1165.0,415.83 L1167.0,414.97 L1169.0,414.11 L1171.0,413.25 L1173.0,412.39 L1175.0,411.53 L1177.0,410.67 L1179.0,409.81 L1179.0,409.81" fill="none" stroke="#1ee38c" stroke-width="2"/>
</g>
<g shape-rendering="crispEdges">
<rect x="3" y="34" width="1430" height="2" fill="#ff0000"/>
<rect x="3" y="200" width="1430" height="2" fill="#ff0000"/>
<rect x="3" y="245" width="1430" height="2" fill="#d22f35"/>
<rect x="3" y="457" width="1430" height="2" fill="#d22f35"/>
<line x1="763" y1="33.5" x2="1433" y2="33.5" stroke="#2020c8" stroke-width="1" stroke-dasharray="3,3"/>
<line x1="763" y1="133.5" x2="1433" y2="133.5" stroke="#2020c8" stroke-width="1" stroke-dasharray="3,3"/>
<line x1="763" y1="196.5" x2="1433" y2="196.5" stroke="#2020c8" stroke-width="1" stroke-dasharray="3,3"/>
<line x1="763" y1="296.5" x2="1433" y2="296.5" stroke="#2020c8" stroke-width="1" stroke-dasharray="3,3"/>
<line x1="763" y1="358.5" x2="1433" y2="358.5" stroke="#2020c8" stroke-width="1" stroke-dasharray="3,3"/>
<line x1="763" y1="459.5" x2="1433" y2="459.5" stroke="#c000e0" stroke-width="1" stroke-dasharray="3,3"/>
<line x1="763" y1="559.5" x2="1433" y2="559.5" stroke="#2020c8" stroke-width="1" stroke-dasharray="3,3"/>
<line x1="283.5" y1="202.5" x2="964" y2="286" stroke="#0000ff" stroke-width="2"/>
<defs><clipPath id="ov"><rect x="3" y="245" width="1430" height="2"/></clipPath></defs>
<line x1="283.5" y1="202.5" x2="964" y2="286" stroke="#ff00ff" stroke-width="2" clip-path="url(#ov)"/>
</g>
<line x1="764" y1="457" x2="1099" y2="34" stroke="#e03a3a" stroke-width="1" stroke-dasharray="4,4" shape-rendering="crispEdges"/>
<g font-family="Liberation Sans, sans-serif">
<text transform="translate(1432,31) scale(0.945,1)" font-size="10" text-anchor="end" fill="#1c1cd4">0.0 - 2740.55</text>
<text transform="translate(1432,131) scale(0.945,1)" font-size="10" text-anchor="end" fill="#1c1cd4">23.6 - 2707.71</text>
<text transform="translate(1432,194) scale(0.945,1)" font-size="10" text-anchor="end" fill="#1c1cd4">38.2 - 2687.39</text>
<text transform="translate(1432,244) scale(0.945,1)" font-size="10" text-anchor="end" fill="#1c1cd4">50.0 - 2670.98</text>
<text transform="translate(1432,294) scale(0.945,1)" font-size="10" text-anchor="end" fill="#1c1cd4">61.8 - 2654.56</text>
<text transform="translate(1432,356) scale(0.945,1)" font-size="10" text-anchor="end" fill="#1c1cd4">76.4 - 2634.24</text>
<text transform="translate(1432,457) scale(0.945,1)" font-size="10" text-anchor="end" fill="#1c1cd4">100.0 - 2601.40</text>
<text transform="translate(1432,557) scale(0.945,1)" font-size="10" text-anchor="end" fill="#1c1cd4">123.6 - 2568.56</text>
</g>
<g shape-rendering="crispEdges">
<rect x="2" y="2" width="1432" height="1" fill="#000"/>
<rect x="2" y="2" width="1" height="640" fill="#000"/>
<rect x="1433" y="2" width="1" height="640" fill="#000"/>
<rect x="2" y="641" width="1432" height="1" fill="#000"/>
<rect x="2" y="643" width="1432" height="1" fill="#000"/>
<rect x="2" y="643" width="1" height="119" fill="#000"/>
<rect x="1433" y="643" width="1" height="119" fill="#000"/>
<rect x="2" y="761" width="1432" height="1" fill="#000"/>
<rect x="1434" y="11" width="3" height="1" fill="#000"/>
<rect x="1434" y="44" width="3" height="1" fill="#000"/>
<rect x="1434" y="77" width="3" height="1" fill="#000"/>
<rect x="1434" y="110" width="3" height="1" fill="#000"/>
<rect x="1434" y="143" width="3" height="1" fill="#000"/>
<rect x="1434" y="176" width="3" height="1" fill="#000"/>
<rect x="1434" y="209" width="3" height="1" fill="#000"/>
<rect x="1434" y="242" width="3" height="1" fill="#000"/>
<rect x="1434" y="275" width="3" height="1" fill="#000"/>
<rect x="1434" y="308" width="3" height="1" fill="#000"/>
<rect x="1434" y="342" width="3" height="1" fill="#000"/>
<rect x="1434" y="375" width="3" height="1" fill="#000"/>
<rect x="1434" y="408" width="3" height="1" fill="#000"/>
<rect x="1434" y="441" width="3" height="1" fill="#000"/>
<rect x="1434" y="474" width="3" height="1" fill="#000"/>
<rect x="1434" y="507" width="3" height="1" fill="#000"/>
<rect x="1434" y="540" width="3" height="1" fill="#000"/>
<rect x="1434" y="573" width="3" height="1" fill="#000"/>
<rect x="1434" y="606" width="3" height="1" fill="#000"/>
<rect x="1434" y="639" width="3" height="1" fill="#000"/>
</g>
<g font-family="Liberation Sans, sans-serif">
<text transform="translate(1439,15.0) scale(0.945,1)" font-size="10" text-anchor="start" fill="#000">2747.70</text>
<text transform="translate(1439,48.0) scale(0.945,1)" font-size="10" text-anchor="start" fill="#000">2736.90</text>
<text transform="translate(1439,81.1) scale(0.945,1)" font-size="10" text-anchor="start" fill="#000">2726.10</text>
<text transform="translate(1439,114.1) scale(0.945,1)" font-size="10" text-anchor="start" fill="#000">2715.30</text>
<text transform="translate(1439,147.2) scale(0.945,1)" font-size="10" text-anchor="start" fill="#000">2704.50</text>
<text transform="translate(1439,180.2) scale(0.945,1)" font-size="10" text-anchor="start" fill="#000">2694.00</text>
<text transform="translate(1439,213.3) scale(0.945,1)" font-size="10" text-anchor="start" fill="#000">2683.20</text>
<text transform="translate(1439,246.3) scale(0.945,1)" font-size="10" text-anchor="start" fill="#000">2672.40</text>
<text transform="translate(1439,279.4) scale(0.945,1)" font-size="10" text-anchor="start" fill="#000">2661.60</text>
<text transform="translate(1439,312.4) scale(0.945,1)" font-size="10" text-anchor="start" fill="#000">2650.80</text>
<text transform="translate(1439,345.5) scale(0.945,1)" font-size="10" text-anchor="start" fill="#000">2640.00</text>
<text transform="translate(1439,378.5) scale(0.945,1)" font-size="10" text-anchor="start" fill="#000">2629.20</text>
<text transform="translate(1439,411.6) scale(0.945,1)" font-size="10" text-anchor="start" fill="#000">2618.40</text>
<text transform="translate(1439,444.6) scale(0.945,1)" font-size="10" text-anchor="start" fill="#000">2607.60</text>
<text transform="translate(1439,477.7) scale(0.945,1)" font-size="10" text-anchor="start" fill="#000">2596.80</text>
<text transform="translate(1439,510.7) scale(0.945,1)" font-size="10" text-anchor="start" fill="#000">2586.00</text>
<text transform="translate(1439,543.8) scale(0.945,1)" font-size="10" text-anchor="start" fill="#000">2575.20</text>
<text transform="translate(1439,576.8) scale(0.945,1)" font-size="10" text-anchor="start" fill="#000">2564.40</text>
<text transform="translate(1439,609.9) scale(0.945,1)" font-size="10" text-anchor="start" fill="#000">2553.60</text>
<text transform="translate(1439,642.9) scale(0.945,1)" font-size="10" text-anchor="start" fill="#000">2542.80</text>
<rect x="1435" y="29" width="41" height="11" fill="#ff0000" shape-rendering="crispEdges"/>
<text transform="translate(1439,38) scale(0.945,1)" font-size="10" text-anchor="start" fill="#fff">2739.85</text>
<rect x="1435" y="63" width="41" height="11" fill="#000" shape-rendering="crispEdges"/>
<text transform="translate(1439,72) scale(0.945,1)" font-size="10" text-anchor="start" fill="#fff">2729.21</text>
<rect x="1435" y="195" width="41" height="11" fill="#ff0000" shape-rendering="crispEdges"/>
<text transform="translate(1439,204) scale(0.945,1)" font-size="10" text-anchor="start" fill="#fff">2685.62</text>
<rect x="1435" y="240" width="41" height="11" fill="#ff0000" shape-rendering="crispEdges"/>
<text transform="translate(1439,249) scale(0.945,1)" font-size="10" text-anchor="start" fill="#fff">2670.93</text>
<rect x="1435" y="452" width="41" height="11" fill="#ff0000" shape-rendering="crispEdges"/>
<text transform="translate(1439,461) scale(0.945,1)" font-size="10" text-anchor="start" fill="#fff">2601.68</text>
<path d="M6 9 L13 9 L9.5 13 Z" fill="#000"/>
<text transform="translate(18,14) scale(0.94,1)" font-size="10" text-anchor="start" fill="#000">XAUUSD,H4&#160; 2728.11 2730.67 2727.76 2729.21</text>
<g shape-rendering="crispEdges">
<line x1="3" y1="668.5" x2="1433" y2="668.5" stroke="#c0c0c0" stroke-width="1" stroke-dasharray="4,3"/>
<line x1="3" y1="703.5" x2="1433" y2="703.5" stroke="#c0c0c0" stroke-width="1" stroke-dasharray="4,3"/>
<line x1="3" y1="737.5" x2="1433" y2="737.5" stroke="#c0c0c0" stroke-width="1" stroke-dasharray="4,3"/>
</g>
<polyline points="3.5,700.5 11.5,708.1 19.5,712.1 27.5,693.0 35.5,683.6 43.5,697.5 51.5,689.1 59.5,692.5 67.5,691.5 75.5,687.7 83.5,683.2 91.5,683.2 99.5,678.7 107.5,677.4 115.5,678.3 123.5,675.0 131.5,683.2 139.5,678.3 147.5,682.3 155.5,682.3 163.5,681.3 171.5,685.6 179.5,682.3 187.5,680.3 195.5,673.4 203.5,672.5 211.5,671.1 219.5,674.4 227.5,674.4 235.5,671.1 243.5,676.0 251.5,680.3 259.5,678.3 267.5,678.3 275.5,674.4 283.5,684.2 291.5,679.7 299.5,678.3 307.5,681.3 315.5,685.8 323.5,688.1 331.5,686.2 339.5,704.8 347.5,696.4 355.5,700.3 363.5,697.5 371.5,702.8 379.5,711.7 387.5,710.3 395.5,712.3 403.5,708.1 411.5,704.8 419.5,701.3 427.5,690.5 435.5,694.4 443.5,693.0 451.5,695.0 459.5,704.2 467.5,701.9 475.5,697.4 483.5,702.3 491.5,698.3 499.5,698.3 507.5,701.9 515.5,708.1 523.5,706.2 531.5,699.5 539.5,700.3 547.5,698.3 555.5,692.5 563.5,699.9 571.5,703.8 579.5,705.4 587.5,703.4 595.5,707.7 603.5,712.1 611.5,700.5 619.5,708.1 627.5,705.4 635.5,708.1 643.5,705.4 651.5,706.8 659.5,709.3 667.5,710.7 675.5,722.1 683.5,717.5 691.5,718.5 699.5,718.5 707.5,719.5 715.5,723.4 723.5,723.4 731.5,724.4 739.5,722.5 747.5,718.5 755.5,713.6 763.5,705.4 771.5,707.7 779.5,701.9 787.5,696.4 795.5,691.7 803.5,697.5 811.5,690.1 819.5,685.2 827.5,687.2 835.5,696.4 843.5,689.5 851.5,689.6 859.5,693.3 867.5,697.3 875.5,698.1 883.5,698.8 891.5,703.4 899.5,695.3 907.5,699.4 915.5,690.6 923.5,691.7 931.5,688.6 939.5,687.2 947.5,681.9 955.5,686.2 963.5,686.6 971.5,688.2 979.5,683.5 987.5,682.5 995.5,687.2 1003.5,681.9 1011.5,680.5 1019.5,680.5 1027.5,674.4 1035.5,672.4 1043.5,672.4 1051.5,671.4 1059.5,670.4 1067.5,667.7 1075.5,666.3 1083.5,667.9 1091.5,665.3 1099.5,664.3 1107.5,682.5 1115.5,687.2 1123.5,682.5 1131.5,682.5" fill="none" stroke="#7236b8" stroke-width="1"/>
<text transform="translate(8,656) scale(0.92,1)" font-size="10" text-anchor="start" fill="#000">RSI(14) 68.0710</text>
<text transform="translate(1437.5,654) scale(0.945,1)" font-size="10" text-anchor="start" fill="#000">100</text>
<text transform="translate(1436,672) scale(0.945,1)" font-size="10" text-anchor="start" fill="#000">80</text>
<text transform="translate(1436,707) scale(0.945,1)" font-size="10" text-anchor="start" fill="#000">50</text>
<text transform="translate(1436,741) scale(0.945,1)" font-size="10" text-anchor="start" fill="#000">20</text>
<text transform="translate(1437,758) scale(0.945,1)" font-size="10" text-anchor="start" fill="#000">0</text>
</g>
<g shape-rendering="crispEdges">
<rect x="3" y="762" width="1" height="3" fill="#000"/>
<rect x="67" y="762" width="1" height="3" fill="#000"/>
<rect x="131" y="762" width="1" height="3" fill="#000"/>
<rect x="195" y="762" width="1" height="3" fill="#000"/>
<rect x="259" y="762" width="1" height="3" fill="#000"/>
<rect x="323" y="762" width="1" height="3" fill="#000"/>
<rect x="387" y="762" width="1" height="3" fill="#000"/>
<rect x="451" y="762" width="1" height="3" fill="#000"/>
<rect x="515" y="762" width="1" height="3" fill="#000"/>
<rect x="579" y="762" width="1" height="3" fill="#000"/>
<rect x="643" y="762" width="1" height="3" fill="#000"/>
<rect x="707" y="762" width="1" height="3" fill="#000"/>
<rect x="771" y="762" width="1" height="3" fill="#000"/>
<rect x="835" y="762" width="1" height="3" fill="#000"/>
<rect x="899" y="762" width="1" height="3" fill="#000"/>
<rect x="963" y="762" width="1" height="3" fill="#000"/>
<rect x="1027" y="762" width="1" height="3" fill="#000"/>
<rect x="1091" y="762" width="1" height="3" fill="#000"/>
</g>
<g font-family="Liberation Sans, sans-serif">
<text transform="translate(2.2,774) scale(0.955,1)" font-size="10" text-anchor="start" fill="#000">18 Sep 2024</text>
<text transform="translate(66.2,774) scale(0.955,1)" font-size="10" text-anchor="start" fill="#000">20 Sep 01:00</text>
<text transform="translate(130.2,774) scale(0.955,1)" font-size="10" text-anchor="start" fill="#000">23 Sep 09:00</text>
<text transform="translate(194.2,774) scale(0.955,1)" font-size="10" text-anchor="start" fill="#000">24 Sep 17:00</text>
<text transform="translate(258.2,774) scale(0.955,1)" font-size="10" text-anchor="start" fill="#000">26 Sep 01:00</text>
<text transform="translate(322.2,774) scale(0.955,1)" font-size="10" text-anchor="start" fill="#000">27 Sep 09:00</text>
<text transform="translate(386.2,774) scale(0.955,1)" font-size="10" text-anchor="start" fill="#000">30 Sep 17:00</text>
<text transform="translate(450.2,774) scale(0.955,1)" font-size="10" text-anchor="start" fill="#000">2 Oct 01:00</text>
<text transform="translate(514.2,774) scale(0.955,1)" font-size="10" text-anchor="start" fill="#000">3 Oct 09:00</text>
<text transform="translate(578.2,774) scale(0.955,1)" font-size="10" text-anchor="start" fill="#000">4 Oct 17:00</text>
<text transform="translate(642.2,774) scale(0.955,1)" font-size="10" text-anchor="start" fill="#000">8 Oct 01:00</text>
<text transform="translate(706.2,774) scale(0.955,1)" font-size="10" text-anchor="start" fill="#000">9 Oct 09:00</text>
<text transform="translate(770.2,774) scale(0.955,1)" font-size="10" text-anchor="start" fill="#000">10 Oct 17:00</text>
<text transform="translate(834.2,774) scale(0.955,1)" font-size="10" text-anchor="start" fill="#000">14 Oct 01:00</text>
<text transform="translate(898.2,774) scale(0.955,1)" font-size="10" text-anchor="start" fill="#000">15 Oct 09:00</text>
<text transform="translate(962.2,774) scale(0.955,1)" font-size="10" text-anchor="start" fill="#000">16 Oct 17:00</text>
<text transform="translate(1026.2,774) scale(0.955,1)" font-size="10" text-anchor="start" fill="#000">18 Oct 01:00</text>
<text transform="translate(1090.2,774) scale(0.955,1)" font-size="10" text-anchor="start" fill="#000">21 Oct 09:00</text>
</g>
</svg>
</body></html>
